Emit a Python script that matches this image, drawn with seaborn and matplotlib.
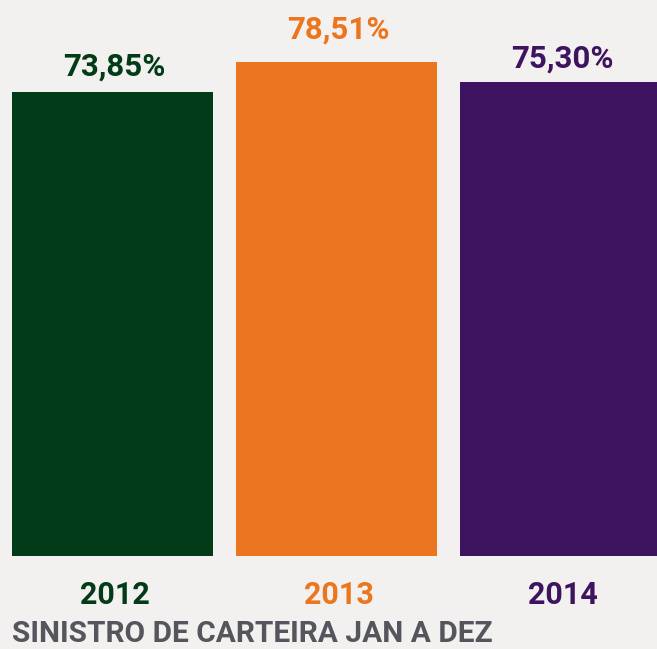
import matplotlib
matplotlib.use("Agg")
import matplotlib.pyplot as plt
import seaborn as sns
import pandas as pd

# Loss ratio of the portfolio, January to December
years = ["2012", "2013", "2014"]
loss_ratio = [73.85, 78.51, 75.30]
bar_colors = ["#013B18", "#EC761F", "#3E1460"]

title_text = "SINISTRO DE CARTEIRA JAN A DEZ"
title_color = "#55555E"
background = "#F2F1EF"

sns.set_theme(style="white")
plt.rcParams["font.family"] = ["Roboto", "DejaVu Sans"]

df = pd.DataFrame({"year": years, "ratio": loss_ratio})

W, H = 657, 649
fig = plt.figure(figsize=(W / 100, H / 100), dpi=100, facecolor=background)
ax = fig.add_axes([0, (H - 556) / H, 1, 556 / H])
ax.set_facecolor(background)

sns.barplot(data=df, x="year", y="ratio", hue="year", palette=bar_colors,
            width=0.897, legend=False, saturation=1, linewidth=0, ax=ax)

ax.set_xlim(-0.502, 2.431)
ax.set_ylim(0, 88.4)
ax.set_axis_off()

# value labels above each bar
label_pad = [16, 24, 15]
for i, (v, c) in enumerate(zip(loss_ratio, bar_colors)):
    ax.annotate(f"{v:.2f}".replace(".", ",") + "%", xy=(i, v),
                xytext=(1.5, label_pad[i] * 0.72), textcoords="offset points",
                ha="center", va="baseline", fontsize=22.5,
                fontweight="bold", color=c)

# year labels under each bar
for i, (yr, c) in enumerate(zip(years, bar_colors)):
    ax.annotate(yr, xy=(i, 0), xycoords=("data", "axes fraction"),
                xytext=(1.5, -48 * 0.72), textcoords="offset points",
                ha="center", va="baseline", fontsize=22,
                fontweight="bold", color=c, annotation_clip=False)

fig.text(12 / W, 7 / H, title_text, ha="left", va="baseline",
         fontsize=21.5, fontweight="bold", color=title_color)

fig.savefig("out.png", dpi=100, facecolor=background)
